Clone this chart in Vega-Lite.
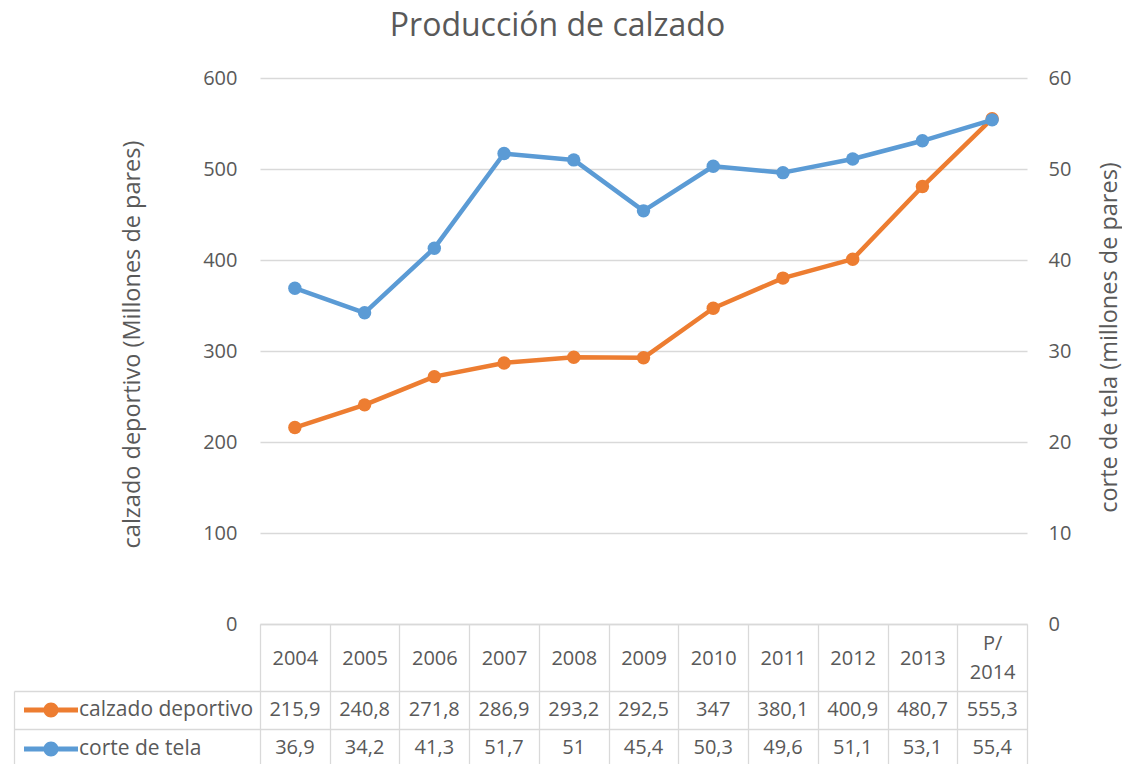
{
  "$schema": "https://vega.github.io/schema/vega-lite/v6.json",
  "width": 767,
  "height": 686,
  "autosize": {"type": "none"},
  "padding": {"left": 260, "top": 78, "right": 95, "bottom": 0},
  "background": "white",
  "title": {"text": "Producción de calzado", "fontSize": 32, "font": "Open Sans", "fontWeight": "normal", "color": "#595959", "anchor": "middle", "dx": -86, "offset": 0, "baseline": "alphabetic"},
  "data": {"values": [
    {"anio": "2004", "serie": "calzado deportivo", "valor": 215.9},
    {"anio": "2005", "serie": "calzado deportivo", "valor": 240.8},
    {"anio": "2006", "serie": "calzado deportivo", "valor": 271.8},
    {"anio": "2007", "serie": "calzado deportivo", "valor": 286.9},
    {"anio": "2008", "serie": "calzado deportivo", "valor": 293.2},
    {"anio": "2009", "serie": "calzado deportivo", "valor": 292.5},
    {"anio": "2010", "serie": "calzado deportivo", "valor": 347},
    {"anio": "2011", "serie": "calzado deportivo", "valor": 380.1},
    {"anio": "2012", "serie": "calzado deportivo", "valor": 400.9},
    {"anio": "2013", "serie": "calzado deportivo", "valor": 480.7},
    {"anio": "P/ 2014", "serie": "calzado deportivo", "valor": 555.3},
    {"anio": "2004", "serie": "corte de tela", "valor": 36.9},
    {"anio": "2005", "serie": "corte de tela", "valor": 34.2},
    {"anio": "2006", "serie": "corte de tela", "valor": 41.3},
    {"anio": "2007", "serie": "corte de tela", "valor": 51.7},
    {"anio": "2008", "serie": "corte de tela", "valor": 51},
    {"anio": "2009", "serie": "corte de tela", "valor": 45.4},
    {"anio": "2010", "serie": "corte de tela", "valor": 50.3},
    {"anio": "2011", "serie": "corte de tela", "valor": 49.6},
    {"anio": "2012", "serie": "corte de tela", "valor": 51.1},
    {"anio": "2013", "serie": "corte de tela", "valor": 53.1},
    {"anio": "P/ 2014", "serie": "corte de tela", "valor": 55.4}
  ]},
  "encoding": {
    "x": {
      "field": "anio", "type": "nominal", "sort": null,
      "scale": {"type": "band", "paddingInner": 0, "paddingOuter": 0},
      "axis": {
        "title": null, "orient": "bottom", "offset": -140, "labelAngle": 0,
        "labelFontSize": 20, "labelColor": "#595959", "labelFont": "Open Sans",
        "labelBaseline": "middle",
        "labelPadding": {"condition": {"test": "datum.value == 'P/ 2014'", "value": -120.5}, "value": -106},
        "labelLineHeight": 29,
        "labelExpr": "datum.value == 'P/ 2014' ? ['P/', '2014'] : datum.label",
        "tickBand": "extent", "tickSize": 140, "tickColor": "#d9d9d9", "tickWidth": 1.3,
        "domainColor": "#d9d9d9", "domainWidth": 1.3, "grid": false, "labelOverlap": false
      }
    }
  },
  "layer": [
    {
      "transform": [{"filter": "datum.serie == 'calzado deportivo'"}],
      "mark": {"type": "line", "strokeWidth": 4.5, "strokeJoin": "round", "point": {"filled": true, "size": 180, "opacity": 1}},
      "encoding": {
        "y": {
          "field": "valor", "type": "quantitative",
          "scale": {"domain": [0, 600], "range": [546, 0], "nice": false},
          "axis": {
            "orient": "left", "values": [0, 100, 200, 300, 400, 500, 600],
            "title": "calzado deportivo (Millones de pares)", "titleFontSize": 23.5, "titleFontWeight": "normal",
            "titleColor": "#595959", "titleFont": "Open Sans", "titleX": -128, "titleY": 266, "titleAngle": -90,
            "titleBaseline": "middle", "titleAlign": "center",
            "labelFontSize": 20, "labelColor": "#595959", "labelFont": "Open Sans", "labelPadding": 23,
            "domain": false, "ticks": false, "grid": true, "gridColor": "#d9d9d9", "gridWidth": 1.3
          }
        },
        "color": {
          "field": "serie", "type": "nominal",
          "scale": {"domain": ["calzado deportivo", "corte de tela"], "range": ["#ED7D31", "#5B9BD5"]},
          "legend": {
            "orient": "none", "legendX": -219.5, "legendY": 621.5, "title": null,
            "symbolType": "M-3.6,-0.33H3.6V0.33H-3.6Z M1,0A1,1 0 1,1 -1,0A1,1 0 1,1 1,0Z",
            "symbolSize": 225, "symbolStrokeWidth": 0,
            "labelFontSize": 21, "labelFont": "Open Sans", "labelColor": "#595959", "labelOffset": 17.5,
            "rowPadding": 17, "padding": 0, "labelLimit": 400,
            "encode": {"symbols": {"update": {"fill": {"scale": "color", "field": "value"}, "opacity": {"value": 1}}}}
          }
        }
      }
    },
    {
      "transform": [{"filter": "datum.serie == 'corte de tela'"}],
      "mark": {"type": "line", "strokeWidth": 4.5, "strokeJoin": "round", "point": {"filled": true, "size": 180, "opacity": 1}},
      "encoding": {
        "y": {
          "field": "valor", "type": "quantitative",
          "scale": {"domain": [0, 60], "range": [546, 0], "nice": false},
          "axis": {
            "orient": "right", "values": [0, 10, 20, 30, 40, 50, 60],
            "title": "corte de tela (millones de pares)", "titleFontSize": 23.5, "titleFontWeight": "normal",
            "titleColor": "#595959", "titleFont": "Open Sans", "titleX": 82, "titleY": 259, "titleAngle": -90,
            "titleBaseline": "middle", "titleAlign": "center",
            "labelFontSize": 20, "labelColor": "#595959", "labelFont": "Open Sans", "labelPadding": 21,
            "domain": false, "ticks": false, "grid": false
          }
        },
        "color": {"field": "serie", "type": "nominal"}
      }
    },
    {
      "mark": {"type": "text", "fontSize": 20, "font": "Open Sans", "color": "#595959", "baseline": "middle"},
      "encoding": {
        "y": {
          "field": "serie", "type": "nominal", "sort": ["calzado deportivo", "corte de tela"],
          "scale": {"type": "band", "range": [613, 689], "paddingInner": 0, "paddingOuter": 0},
          "axis": {
            "orient": "left", "offset": 246, "labels": false, "title": null,
            "domain": true, "domainColor": "#d9d9d9", "domainWidth": 1.3,
            "ticks": true, "tickBand": "extent", "tickSize": -1013, "tickColor": "#d9d9d9", "tickWidth": 1.3,
            "grid": false
          }
        },
        "text": {"field": "valor", "type": "quantitative", "format": "~g"}
      }
    }
  ],
  "resolve": {"scale": {"y": "independent"}, "axis": {"y": "independent"}},
  "config": {
    "view": {"stroke": null},
    "locale": {"number": {"decimal": ",", "thousands": ".", "grouping": [3], "currency": ["", " €"]}},
    "text": {"font": "Open Sans"}
  }
}
